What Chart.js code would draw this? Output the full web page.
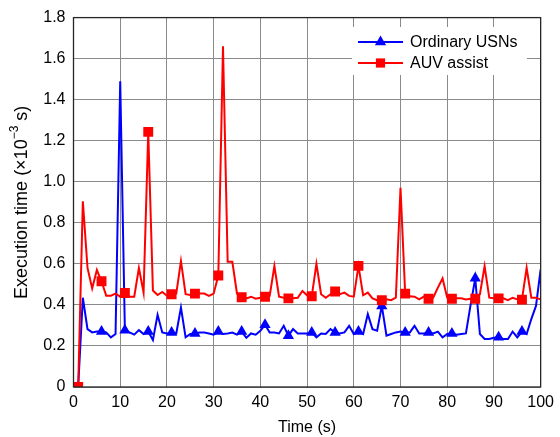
<!DOCTYPE html>
<html>
<head>
<meta charset="utf-8">
<script src="https://cdn.jsdelivr.net/npm/chart.js@4.4.1/dist/chart.umd.min.js"></script>
<style>
  html, body { margin: 0; padding: 0; background: #fff; }
  #wrap { width: 560px; height: 437px; position: relative; }
</style>
</head>
<body>
<div id="wrap"><canvas id="c" width="560" height="437"></canvas></div>
<script>
// Time stamps (s)
const timeSec = [
  1, 2, 3, 4, 5, 6, 7, 8, 9, 10,
  11, 12, 13, 14, 15, 16, 17, 18, 19, 20,
  21, 22, 23, 24, 25, 26, 27, 28, 29, 30,
  31, 32, 33, 34, 35, 36, 37, 38, 39, 40,
  41, 42, 43, 44, 45, 46, 47, 48, 49, 50,
  51, 52, 53, 54, 55, 56, 57, 58, 59, 60,
  61, 62, 63, 64, 65, 66, 67, 68, 69, 70,
  71, 72, 73, 74, 75, 76, 77, 78, 79, 80,
  81, 82, 83, 84, 85, 86, 87, 88, 89, 90,
  91, 92, 93, 94, 95, 96, 97, 98, 99, 100
];

// Execution time (x10^-3 s), ordinary USNs
const ordinaryUSNs = [
  0, 0.435, 0.282, 0.266, 0.27, 0.27, 0.266, 0.242, 0.258, 1.49,
  0.277, 0.266, 0.255, 0.277, 0.258, 0.27, 0.229, 0.352, 0.266, 0.261,
  0.266, 0.261, 0.387, 0.242, 0.258, 0.261, 0.266, 0.266, 0.261, 0.255,
  0.27, 0.258, 0.261, 0.265, 0.255, 0.27, 0.24, 0.261, 0.255, 0.274,
  0.303, 0.266, 0.266, 0.261, 0.298, 0.25, 0.282, 0.261, 0.261, 0.261,
  0.266, 0.242, 0.261, 0.258, 0.282, 0.266, 0.261, 0.266, 0.298, 0.258,
  0.27, 0.258, 0.355, 0.282, 0.274, 0.395, 0.25, 0.258, 0.266, 0.27,
  0.266, 0.266, 0.298, 0.261, 0.261, 0.266, 0.261, 0.27, 0.242, 0.258,
  0.261, 0.255, 0.258, 0.261, 0.40, 0.53, 0.258, 0.234, 0.234, 0.24,
  0.242, 0.234, 0.234, 0.27, 0.242, 0.27, 0.258, 0.331, 0.395, 0.573
];

// Execution time (x10^-3 s), AUV assist
const auvAssist = [
  0, 0.905, 0.58, 0.48, 0.57, 0.515, 0.445, 0.445, 0.455, 0.44,
  0.458, 0.44, 0.44, 0.58, 0.46, 1.243, 0.47, 0.448, 0.463, 0.445,
  0.452, 0.455, 0.613, 0.452, 0.448, 0.455, 0.455, 0.455, 0.444, 0.455,
  0.543, 1.66, 0.61, 0.61, 0.455, 0.437, 0.432, 0.44, 0.43, 0.435,
  0.44, 0.444, 0.589, 0.44, 0.435, 0.432, 0.432, 0.435, 0.468, 0.447,
  0.442, 0.60, 0.452, 0.435, 0.452, 0.465, 0.452, 0.46, 0.444, 0.44,
  0.59, 0.447, 0.46, 0.432, 0.423, 0.423, 0.427, 0.423, 0.435, 0.971,
  0.455, 0.442, 0.44, 0.427, 0.44, 0.43, 0.435, 0.484, 0.529, 0.435,
  0.43, 0.432, 0.432, 0.427, 0.43, 0.43, 0.452, 0.589, 0.435, 0.432,
  0.432, 0.432, 0.423, 0.435, 0.427, 0.426, 0.58, 0.435, 0.435, 0.427
];

const xTicks = [0, 10, 20, 30, 40, 50, 60, 70, 80, 90, 100];
const yTicks = [0, 0.2, 0.4, 0.6, 0.8, 1.0, 1.2, 1.4, 1.6, 1.8];

const FONT = '"Liberation Sans", Arial, Helvetica, sans-serif';
const toPoints = (vals) => vals.map((v, i) => ({ x: timeSec[i], y: v }));
const markerEvery5 = (r) => (ctx) => (ctx.dataIndex % 5 === 0 ? r : 0);

// Marker shapes used in the legend
function drawMarker(ctx, style, x, y, r, color) {
  ctx.save();
  ctx.fillStyle = color;
  ctx.beginPath();
  if (style === 'triangle') {
    ctx.moveTo(x, y - r);
    ctx.lineTo(x + r * Math.sin(2 * Math.PI / 3), y + r / 2);
    ctx.lineTo(x - r * Math.sin(2 * Math.PI / 3), y + r / 2);
    ctx.closePath();
  } else {
    const s = r * Math.SQRT1_2;
    ctx.rect(x - s, y - s, 2 * s, 2 * s);
  }
  ctx.fill();
  ctx.restore();
}

// Box frame, inside legend and the rotated y title with superscript
const decorations = {
  id: 'decorations',
  afterDatasetsDraw(chart) {
    const ctx = chart.ctx;
    const a = chart.chartArea;

    // legend
    const lx = 352, ly = 27, lw = 175, lh = 48;
    ctx.save();
    ctx.fillStyle = '#ffffff';
    ctx.fillRect(lx, ly, lw, lh);
    const rows = [42, 63];
    chart.data.datasets.forEach((ds, i) => {
      const y = rows[i];
      ctx.strokeStyle = ds.borderColor;
      ctx.lineWidth = 2;
      ctx.beginPath();
      ctx.moveTo(358, y);
      ctx.lineTo(403, y);
      ctx.stroke();
      drawMarker(ctx, ds.pointStyle, 380.5, y, ds.legendMarker, ds.borderColor);
      ctx.fillStyle = '#000';
      ctx.font = '16px ' + FONT;
      ctx.textAlign = 'left';
      ctx.textBaseline = 'middle';
      ctx.fillText(ds.label, 410, y + 1);
    });
    ctx.restore();

    // frame
    ctx.save();
    ctx.strokeStyle = '#262626';
    ctx.lineWidth = 1.3;
    ctx.strokeRect(a.left, a.top, a.right - a.left, a.bottom - a.top);
    ctx.restore();

    // y-axis title
    ctx.save();
    ctx.translate(22, (a.top + a.bottom) / 2);
    ctx.rotate(-Math.PI / 2);
    ctx.fillStyle = '#000';
    ctx.textBaseline = 'middle';
    ctx.textAlign = 'left';
    const big = '18px ' + FONT, small = '12px ' + FONT;
    const p1 = 'Execution time (\u00d710', p2 = '\u22123', p3 = ' s)';
    ctx.font = big; const w1 = ctx.measureText(p1).width, w3 = ctx.measureText(p3).width;
    ctx.font = small; const w2 = ctx.measureText(p2).width;
    let x0 = -(w1 + w2 + w3) / 2;
    ctx.font = big; ctx.fillText(p1, x0, 0);
    ctx.font = small; ctx.fillText(p2, x0 + w1, -7);
    ctx.font = big; ctx.fillText(p3, x0 + w1 + w2, 0);
    ctx.restore();
  }
};

new Chart(document.getElementById('c'), {
  type: 'line',
  data: {
    datasets: [
      {
        label: 'Ordinary USNs',
        data: toPoints(ordinaryUSNs),
        borderColor: '#0000ff',
        backgroundColor: '#0000ff',
        borderWidth: 2,
        pointStyle: 'triangle',
        pointRadius: markerEvery5(6.5),
        legendMarker: 6.5,
        pointBorderWidth: 0,
        tension: 0,
        order: 1
      },
      {
        label: 'AUV assist',
        data: toPoints(auvAssist),
        borderColor: '#ff0000',
        backgroundColor: '#ff0000',
        borderWidth: 2,
        pointStyle: 'rect',
        pointRadius: markerEvery5(7),
        legendMarker: 6.5,
        pointBorderWidth: 0,
        tension: 0,
        order: 0
      }
    ]
  },
  options: {
    responsive: false,
    animation: false,
    devicePixelRatio: 1,
    layout: { padding: { top: 15, right: 19, left: 0, bottom: 0 } },
    plugins: { legend: { display: false }, tooltip: { enabled: false } },
    scales: {
      x: {
        type: 'linear',
        min: 0, max: 100,
        afterBuildTicks: (s) => { s.ticks = xTicks.map(v => ({ value: v })); },
        afterFit: (s) => { s.height = 50; },
        grid: { color: '#8a8a8a', lineWidth: 1, drawTicks: false },
        border: { display: false },
        ticks: { color: '#000', font: { family: FONT, size: 16 }, padding: 6, maxRotation: 0 },
        title: { display: true, text: 'Time (s)', color: '#000', font: { family: FONT, size: 16 }, padding: { top: 2, bottom: 0 } }
      },
      y: {
        min: 0, max: 1.8,
        afterBuildTicks: (s) => { s.ticks = yTicks.map(v => ({ value: v })); },
        afterFit: (s) => { s.width = 73.5; },
        grid: { color: '#8a8a8a', lineWidth: 1, drawTicks: false },
        border: { display: false },
        ticks: {
          color: '#000', font: { family: FONT, size: 16 }, padding: 8,
          callback: (v) => (v === 0 ? '0' : Number(v).toFixed(1))
        }
      }
    }
  },
  plugins: [decorations]
});
</script>
</body>
</html>
